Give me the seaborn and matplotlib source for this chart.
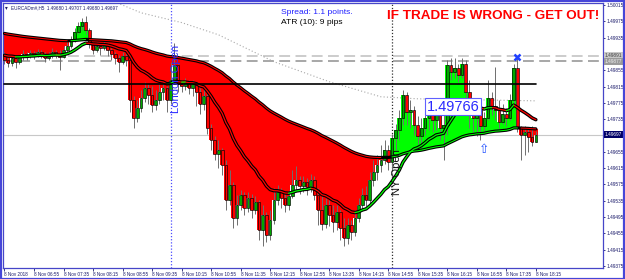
import numpy as np
import pandas as pd
import matplotlib
matplotlib.use("Agg")
import matplotlib.pyplot as plt
from matplotlib.patches import Rectangle
import seaborn as sns

sns.set_style("white")
plt.rcParams['font.family'] = ['Liberation Sans', 'DejaVu Sans']

# ---------------- data ----------------
first_open = 1.49893
close = [1.49881, 1.49873, 1.49886, 1.49876, 1.49888, 1.49895, 1.49891, 1.49898, 1.49893, 1.49900,
         1.49895, 1.49886, 1.49893, 1.49900, 1.49895, 1.49888, 1.49905, 1.49915, 1.49930, 1.49949,
         1.49964, 1.49974, 1.49954, 1.49920, 1.49905, 1.49915, 1.49910, 1.49918, 1.49905, 1.49895,
         1.49886, 1.49876, 1.49891, 1.49881, 1.49783, 1.49738, 1.49763, 1.49788, 1.49812, 1.49795,
         1.49770, 1.49783, 1.49802, 1.49812, 1.49783, 1.49832, 1.49868, 1.49822, 1.49817, 1.49827,
         1.49812, 1.49822, 1.49802, 1.49773, 1.49792, 1.49714, 1.49684, 1.49650, 1.49660, 1.49623,
         1.49537, 1.49574, 1.49493, 1.49525, 1.49549, 1.49518, 1.49542, 1.49513, 1.49532, 1.49464,
         1.49500, 1.49451, 1.49488, 1.49537, 1.49557, 1.49542, 1.49525, 1.49547, 1.49574, 1.49586,
         1.49572, 1.49581, 1.49569, 1.49586, 1.49549, 1.49513, 1.49478, 1.49525, 1.49500, 1.49483,
         1.49508, 1.49468, 1.49444, 1.49476, 1.49459, 1.49493, 1.49525, 1.49549, 1.49537, 1.49586,
         1.49606, 1.49623, 1.49635, 1.49660, 1.49630, 1.49689, 1.49709, 1.49738, 1.49795, 1.49753,
         1.49758, 1.49721, 1.49694, 1.49714, 1.49738, 1.49753, 1.49734, 1.49746, 1.49714, 1.49721,
         1.49868, 1.49851, 1.49861, 1.49844, 1.49871, 1.49802, 1.49778, 1.49738, 1.49758, 1.49719,
         1.49738, 1.49788, 1.49768, 1.49758, 1.49729, 1.49748, 1.49738, 1.49783, 1.49861, 1.49714,
         1.49697, 1.49704, 1.49692, 1.49680, 1.49697]
high = [1.49900, 1.49888, 1.49893, 1.49891, 1.49893, 1.49905, 1.49900, 1.49905, 1.49903, 1.49908,
        1.49905, 1.49900, 1.49900, 1.49910, 1.49905, 1.49905, 1.49915, 1.49925, 1.49940, 1.49959,
        1.49974, 1.49984, 1.49989, 1.49959, 1.49925, 1.49925, 1.49920, 1.49930, 1.49922, 1.49910,
        1.49900, 1.49893, 1.49900, 1.49895, 1.49886, 1.49792, 1.49783, 1.49807, 1.49827, 1.49822,
        1.49817, 1.49807, 1.49822, 1.49827, 1.49817, 1.49876, 1.49922, 1.49871, 1.49832, 1.49837,
        1.49832, 1.49832, 1.49827, 1.49812, 1.49812, 1.49797, 1.49724, 1.49694, 1.49684, 1.49665,
        1.49635, 1.49611, 1.49581, 1.49549, 1.49562, 1.49557, 1.49557, 1.49552, 1.49547, 1.49537,
        1.49525, 1.49508, 1.49513, 1.49567, 1.49574, 1.49567, 1.49557, 1.49562, 1.49611, 1.49621,
        1.49596, 1.49596, 1.49591, 1.49601, 1.49596, 1.49567, 1.49547, 1.49542, 1.49537, 1.49525,
        1.49525, 1.49513, 1.49493, 1.49493, 1.49488, 1.49513, 1.49542, 1.49567, 1.49572, 1.49606,
        1.49635, 1.49648, 1.49672, 1.49684, 1.49672, 1.49699, 1.49724, 1.49758, 1.49807, 1.49802,
        1.49783, 1.49768, 1.49743, 1.49738, 1.49763, 1.49773, 1.49768, 1.49783, 1.49763, 1.49768,
        1.49881, 1.49886, 1.49886, 1.49871, 1.49886, 1.49881, 1.49832, 1.49788, 1.49788, 1.49773,
        1.49753, 1.49832, 1.49802, 1.49864, 1.49783, 1.49773, 1.49763, 1.49797, 1.49871, 1.49888,
        1.49719, 1.49719, 1.49714, 1.49719, 1.49707]
low = [1.49871, 1.49864, 1.49866, 1.49861, 1.49871, 1.49881, 1.49881, 1.49886, 1.49883, 1.49888,
       1.49886, 1.49876, 1.49881, 1.49886, 1.49886, 1.49856, 1.49886, 1.49900, 1.49910, 1.49925,
       1.49945, 1.49954, 1.49945, 1.49910, 1.49895, 1.49900, 1.49893, 1.49905, 1.49891, 1.49881,
       1.49871, 1.49851, 1.49871, 1.49866, 1.49753, 1.49714, 1.49729, 1.49753, 1.49778, 1.49773,
       1.49753, 1.49758, 1.49773, 1.49783, 1.49753, 1.49773, 1.49822, 1.49802, 1.49802, 1.49807,
       1.49797, 1.49792, 1.49768, 1.49748, 1.49758, 1.49699, 1.49660, 1.49635, 1.49616, 1.49599,
       1.49513, 1.49525, 1.49468, 1.49476, 1.49513, 1.49500, 1.49508, 1.49493, 1.49503, 1.49439,
       1.49424, 1.49434, 1.49439, 1.49478, 1.49525, 1.49518, 1.49508, 1.49513, 1.49542, 1.49557,
       1.49552, 1.49557, 1.49549, 1.49557, 1.49537, 1.49476, 1.49464, 1.49468, 1.49473, 1.49459,
       1.49464, 1.49439, 1.49424, 1.49429, 1.49439, 1.49449, 1.49483, 1.49513, 1.49522, 1.49527,
       1.49572, 1.49586, 1.49606, 1.49626, 1.49611, 1.49606, 1.49660, 1.49684, 1.49721, 1.49721,
       1.49714, 1.49697, 1.49675, 1.49665, 1.49697, 1.49709, 1.49704, 1.49709, 1.49684, 1.49635,
       1.49697, 1.49832, 1.49837, 1.49827, 1.49837, 1.49788, 1.49714, 1.49704, 1.49694, 1.49684,
       1.49704, 1.49734, 1.49746, 1.49734, 1.49714, 1.49724, 1.49719, 1.49734, 1.49768, 1.49704,
       1.49635, 1.49648, 1.49655, 1.49670, 1.49680]

slow_ma_seed = 1.49947
fast_ma_seed = 1.49893
slow_span = 80
fast_span = 18

long_ma_bars = [28, 37, 48, 58, 73, 88, 102, 112, 144]
long_ma_vals = [1.50030, 1.49996, 1.49972, 1.49942, 1.49876, 1.49827, 1.49790, 1.49785, 1.49780]

time_labels = ["8 Nov 2018", "8 Nov 06:55", "8 Nov 07:35", "8 Nov 08:15", "8 Nov 08:55",
               "8 Nov 09:35", "8 Nov 10:15", "8 Nov 10:55", "8 Nov 11:35", "8 Nov 12:15",
               "8 Nov 12:55", "8 Nov 13:35", "8 Nov 14:15", "8 Nov 14:55", "8 Nov 15:35",
               "8 Nov 16:15", "8 Nov 16:55", "8 Nov 17:35", "8 Nov 18:15"]
price_ticks = [1.50015, 1.49975, 1.49935, 1.49855, 1.49815, 1.49775, 1.49735, 1.49655,
               1.49615, 1.49575, 1.49535, 1.49495, 1.49455, 1.49415, 1.49375]

dash_levels = [1.49891, 1.49877]
solid_level = 1.49822
last_price = 1.49697
marked_price = 1.49766
london_bar = 45
ny_bar = 105
arrow_bar, arrow_price = 130, 1.49660
cross_bar, cross_price = 139, 1.49887

# ---------------- derived ----------------
n = len(close)
idx = np.arange(n)
c = np.array(close)
o = np.concatenate([[first_open], c[:-1]])
h = np.maximum.reduce([np.array(high), o, c])
l = np.minimum.reduce([np.array(low), o, c])
slow = pd.Series([slow_ma_seed] + close).ewm(span=slow_span, adjust=False).mean().values[1:]
fast = pd.Series([fast_ma_seed] + close).ewm(span=fast_span, adjust=False).mean().values[1:]

W, H = 625, 279
fig = plt.figure(figsize=(W / 100, H / 100), dpi=100)
fig.patch.set_facecolor("white")
ax = fig.add_axes([3 / W, 11 / H, 600 / W, 265 / H])
ax.set_facecolor("white")

RED = "#FF0000"
LIME = "#00FF00"

# histogram fill between slow MA and close
fill_cols = [RED if cc < ss else LIME for cc, ss in zip(c, slow)]
ax.bar(idx, c - slow, bottom=slow, width=1.0, color=fill_cols, linewidth=0, zorder=1)

# long dotted MA
ax.plot(long_ma_bars, long_ma_vals, color="#A8A8A8", lw=0.8, ls=(0, (1, 2)), zorder=0.8)

# horizontal levels
ax.axhline(dash_levels[0], color="#C8C8C8", lw=1.3, ls=(0, (6, 3)), zorder=0.7)
ax.axhline(dash_levels[1], color="#A0A0A0", lw=1.3, ls=(0, (6, 3)), zorder=0.7)
ax.axhline(last_price, color="#C8C8C8", lw=0.8, zorder=0.7)
ax.plot([0, n - 1], [solid_level, solid_level], color="black", lw=1.2, zorder=5)

# vertical session lines
ax.axvline(london_bar, color="#4C4CFF", lw=0.9, ls=(0, (1, 1.5)), zorder=0.9)
ax.axvline(ny_bar, color="#303030", lw=0.9, ls=(0, (1, 1.5)), zorder=0.9)

# candles
ax.vlines(idx, l, h, color="#6E6E6E", lw=0.7, zorder=2)
body_cols = ["#00A800" if cc >= oo else RED for cc, oo in zip(c, o)]
body_h = np.where(np.abs(c - o) < 0.000008, 0.000008, c - o)
ax.bar(idx, body_h, bottom=o, width=0.72, color=body_cols, edgecolor="black",
       linewidth=0.45, zorder=3)

# moving averages (black outline + coloured core)
df = pd.DataFrame({"bar": idx, "slow": slow, "fast": fast})
sns.lineplot(data=df, x="bar", y="slow", color="black", lw=2.3, ax=ax, zorder=4)
sns.lineplot(data=df, x="bar", y="fast", color="black", lw=2.5, ax=ax, zorder=4)
slow_core_red = np.where(c < slow, slow, np.nan)
slow_core_grn = np.where(c >= slow, slow, np.nan)
ax.plot(idx, slow_core_red, color=RED, lw=0.7, zorder=4.1)
ax.plot(idx, slow_core_grn, color=LIME, lw=0.7, zorder=4.1)
rising = np.concatenate([[True], np.diff(fast) >= 0])
up = fast.copy(); up[~rising] = np.nan
dn = fast.copy(); dn[rising] = np.nan
for i in range(1, n):
    if rising[i] and not rising[i - 1]:
        up[i - 1] = fast[i - 1]
    if not rising[i] and rising[i - 1]:
        dn[i - 1] = fast[i - 1]
ax.plot(idx, dn, color=RED, lw=0.9, zorder=4.2)
ax.plot(idx, up, color=LIME, lw=0.9, zorder=4.2)

# axes settings
ax.set_xlim(-0.4, 162.2)
ax.set_ylim(1.49370, 1.50020)
ax.set_xlabel("")
ax.set_ylabel("")
ax.yaxis.tick_right()
ax.set_yticks(price_ticks)
ax.set_yticklabels([f"{v:.5f}" for v in price_ticks])
ax.set_xticks(np.arange(0, n, 8))
ax.set_xticklabels(time_labels)
for lab in ax.get_xticklabels():
    lab.set_ha("left")
ax.tick_params(axis="y", which="both", right=True, length=1.5, width=0.6, pad=1.0,
               labelsize=3.4, colors="#1A1A6A")
ax.tick_params(axis="x", which="both", bottom=True, length=2, width=0.6, pad=1.2,
               labelsize=3.3, colors="#1A1A6A")
for sp in ax.spines.values():
    sp.set_color("#4646C8")
    sp.set_linewidth(0.9)
    sp.set_visible(True)

# price boxes on the axis
ytr = ax.get_yaxis_transform()
for val, fc, tc in [(dash_levels[0], "#C8C8C8", "#404040"),
                    (dash_levels[1], "#9A9A9A", "#F0F0F0"),
                    (last_price, "#000066", "white")]:
    ax.text(1.003, val, f"{val:.5f}", transform=ytr, fontsize=3.4, color=tc,
            ha="left", va="center", clip_on=False, zorder=10,
            bbox=dict(boxstyle="square,pad=0.2", fc=fc, ec="none"))

# annotations
ax.text(121.6, marked_price, f"{marked_price:.5f}", fontsize=10.5, color="#2A2AFF",
        ha="center", va="center", zorder=8,
        bbox=dict(boxstyle="square,pad=0.12", fc="white", ec="#6060FF", lw=0.8))
ax.text(arrow_bar, arrow_price, "\u21e7", fontsize=9, color="#2050FF", ha="center",
        va="center", family=["DejaVu Sans"], zorder=8)
ax.plot([cross_bar], [cross_price], marker="x", ms=4.5, mew=1.8, color="#2040FF", zorder=8)

fig.text(176 / W, 1 - 79 / H, "London Open", rotation=90, color="#2A2AFF", fontsize=8.1,
         ha="center", va="center")
fig.text(397 / W, 1 - 172 / H, "NY Open", rotation=90, color="#111111", fontsize=8.1,
         ha="center", va="center")
fig.text(5 / W, 1 - 8 / H, "\u25be", color="#1A1A6A", fontsize=4, ha="left", va="center",
         family=["DejaVu Sans"])
fig.text(11 / W, 1 - 8 / H, "EURCADm#,H5  1.49680 1.49707 1.49680 1.49697", color="#1A1A6A",
         fontsize=3.3, ha="left", va="center")
fig.text(281 / W, 1 - 13 / H, "Spread: 1.1 points.", color="#2020FF", fontsize=6.1,
         ha="left", va="center")
fig.text(281 / W, 1 - 23 / H, "ATR (10): 9 pips", color="black", fontsize=6.1,
         ha="left", va="center")
fig.text(387 / W, 1 - 16 / H, "IF TRADE IS WRONG - GET OUT!", color="#FF0000", fontsize=9.7,
         fontweight="bold", ha="left", va="center")

# window border
fig.patches.append(Rectangle((0.5 / W, 0.5 / H), 1 - 1.5 / W, 1 - 1.5 / H, transform=fig.transFigure,
                             fill=False, ec="#4646D8", lw=1.6))

fig.savefig("out.png", dpi=100, facecolor="white")
